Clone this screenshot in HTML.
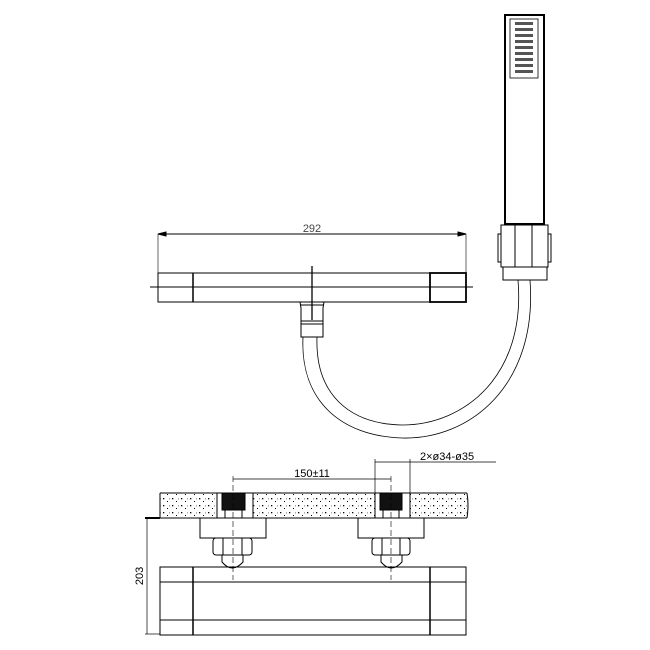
<!DOCTYPE html><html><head><style>body{margin:0;background:#fff}svg{display:block}</style></head><body>
<svg width="650" height="650" viewBox="0 0 650 650" xmlns="http://www.w3.org/2000/svg" fill="none" stroke="#000" stroke-width="1" font-family="Liberation Sans, sans-serif">
<defs><pattern id="sp" width="9" height="7" patternUnits="userSpaceOnUse"><rect x="1" y="1" width="1.3" height="1.3" fill="#000" stroke="none"/><rect x="5" y="4" width="1" height="1" fill="#000" stroke="none"/><rect x="7" y="1.5" width="0.8" height="0.8" fill="#333" stroke="none"/></pattern></defs>
<!-- top view -->
<line x1="158" y1="234" x2="466" y2="234"/><polygon points="158,234 166,232 166,236" fill="#000"/><polygon points="466,234 458,232 458,236" fill="#000"/>
<line x1="158" y1="234" x2="158" y2="273" stroke-width=".6"/><line x1="466" y1="234" x2="466" y2="273" stroke-width=".6"/>
<text x="312" y="232" font-size="11" fill="#444" stroke="none" text-anchor="middle">292</text>
<rect x="158" y="273" width="308" height="29"/>
<line x1="193" y1="273" x2="193" y2="302" stroke-width="1.5"/>
<rect x="430" y="273" width="36" height="29" stroke-width="1.8"/>
<line x1="150" y1="287" x2="473" y2="287"/>
<line x1="312" y1="266" x2="312" y2="320" stroke-width="1.3"/>
<path d="M300,302 L301,308 L301,337 L323,337 L323,308 L324,302"/><line x1="300" y1="305" x2="324" y2="305"/><rect x="301" y="321" width="22" height="3"/>
<path d="M303,337 C300,400 340,436 402,438 C470,440 538,385 530,280" stroke-width=".8"/>
<path d="M317,337 C315,395 350,424 402,425 C465,425 526,375 518,280" stroke-width=".8"/>
<!-- handset -->
<rect x="505" y="15" width="39" height="209" stroke-width="2"/>
<rect x="510" y="19" width="28" height="59" stroke-width=".8"/>
<g fill="#555" stroke="none"><rect x="515" y="22" width="18" height="3"/><rect x="515" y="28" width="18" height="3"/><rect x="515" y="34" width="18" height="3"/><rect x="515" y="40" width="18" height="3"/><rect x="515" y="46" width="18" height="3"/><rect x="515" y="52" width="18" height="3"/><rect x="515" y="58" width="18" height="3"/><rect x="515" y="64" width="18" height="3"/><rect x="515" y="70" width="18" height="3"/></g>
<rect x="501" y="225" width="47" height="42"/><line x1="515" y1="225" x2="515" y2="267"/><line x1="532" y1="225" x2="532" y2="267"/>
<rect x="498" y="234" width="3" height="28"/><rect x="548" y="234" width="3" height="28"/>
<rect x="503" y="267" width="44" height="13"/>
<!-- bottom view -->
<rect x="160" y="493" width="307" height="25" fill="url(#sp)" stroke="none"/>
<line x1="160" y1="493" x2="467" y2="493"/><line x1="145" y1="518" x2="467" y2="518"/><line x1="145" y1="518" x2="160" y2="518" stroke-width="2"/>
<line x1="160" y1="493" x2="160" y2="518"/><path d="M467,493 q2,12 0,25"/>
<rect x="217" y="493" width="36" height="25" fill="#fff"/><rect x="375" y="493" width="35" height="25" fill="#fff"/>
<rect x="222" y="493" width="23" height="17" fill="#111"/><rect x="380" y="493" width="22" height="17" fill="#111"/>
<rect x="225" y="510" width="17" height="8"/><rect x="383" y="510" width="16" height="8"/>
<rect x="200" y="518" width="66" height="20"/><rect x="358" y="518" width="66" height="20"/>
<rect x="213" y="538" width="39" height="17" rx="3"/><line x1="223" y1="538" x2="223" y2="555"/><line x1="242" y1="538" x2="242" y2="555"/>
<rect x="372" y="538" width="38" height="17" rx="3"/><line x1="382" y1="538" x2="382" y2="555"/><line x1="400" y1="538" x2="400" y2="555"/>
<path d="M222,555 L222,562 Q232,574 243,562 L243,555"/><path d="M381,555 L381,562 Q391,574 402,562 L402,555"/>
<rect x="160" y="567" width="306" height="68"/>
<line x1="193" y1="567" x2="193" y2="635" stroke-width="1.5"/><line x1="430" y1="567" x2="430" y2="635" stroke-width="1.5"/>
<line x1="160" y1="582" x2="466" y2="582"/><line x1="160" y1="620" x2="466" y2="620"/>
<line x1="233" y1="476" x2="233" y2="580" stroke-dasharray="6,3" stroke-width=".6"/><line x1="391" y1="476" x2="391" y2="580" stroke-dasharray="6,3" stroke-width=".6"/>
<line x1="233" y1="479" x2="391" y2="479" stroke-width=".7"/>
<text x="312" y="477" font-size="11" fill="#000" stroke="none" text-anchor="middle">150±11</text>
<line x1="375" y1="459" x2="375" y2="493" stroke-width=".7"/><line x1="410" y1="459" x2="410" y2="493" stroke-width=".7"/>
<line x1="375" y1="462" x2="410" y2="462" stroke-width=".7"/><line x1="410" y1="462" x2="496" y2="462" stroke-width=".7"/>
<text x="420" y="460" font-size="11" fill="#000" stroke="none">2×ø34-ø35</text>
<line x1="147" y1="518" x2="147" y2="634" stroke-width=".7"/><line x1="145" y1="634" x2="160" y2="634" stroke-width=".7"/>
<text x="0" y="0" font-size="11" fill="#000" stroke="none" text-anchor="middle" transform="translate(143,576) rotate(-90)">203</text>
</svg></body></html>
